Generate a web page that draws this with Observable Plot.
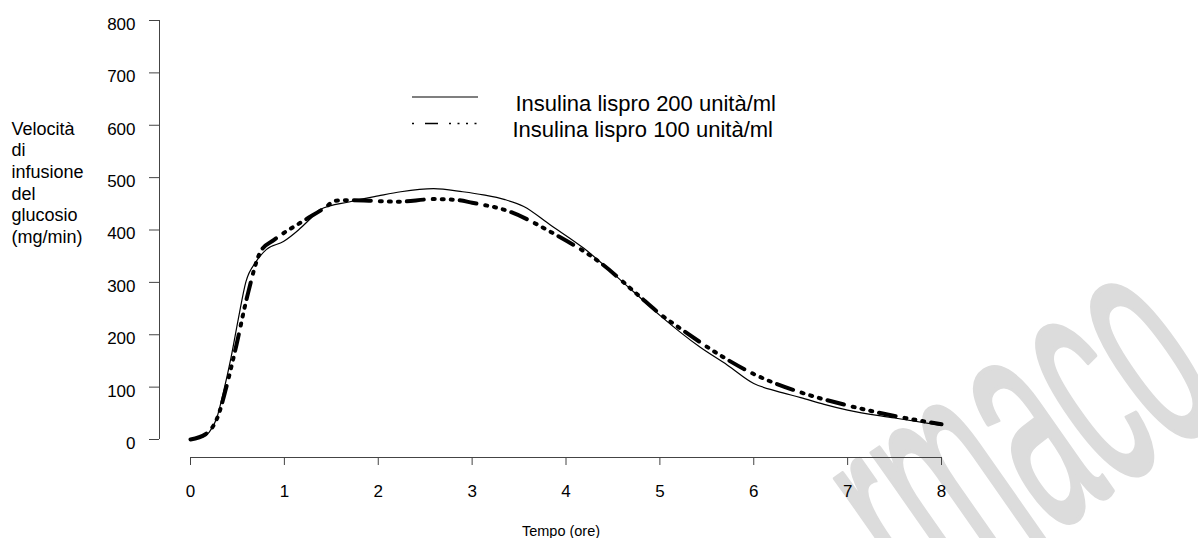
<!DOCTYPE html>
<html><head><meta charset="utf-8">
<script src="https://cdn.jsdelivr.net/npm/d3@7"></script>
<script src="https://cdn.jsdelivr.net/npm/@observablehq/plot@0.6"></script>
<style>
html,body{margin:0;padding:0;background:#fff}
svg{font-family:"Liberation Sans",Arial,sans-serif}
</style>
</head><body><div id="chart"></div>
<script>
// ---- data ----
const hours200  = [0, 0.1, 0.2, 0.28, 0.35, 0.43, 0.51, 0.59, 0.7, 0.81, 0.99, 1.15, 1.28, 1.38, 1.7, 2.0, 2.24, 2.59, 2.9, 3.12, 3.35, 3.55, 3.83, 4.19, 4.72, 5.0, 5.43, 5.72, 6.0, 6.25, 6.5, 6.75, 7.0, 7.5, 8.0];
const values200 = [1, 3, 14, 41, 90, 155, 231, 301, 340, 363, 378, 400, 422, 439, 454, 465, 473, 479, 473, 467, 458, 445, 410, 365, 282, 237, 176, 142, 107, 92, 80, 67, 56, 41, 27];
const hours100  = [0, 0.16, 0.22, 0.3, 0.37, 0.49, 0.6, 0.75, 0.89, 1.19, 1.42, 1.55, 1.67, 1.9, 2.2, 2.6, 2.85, 3.0, 3.37, 3.87, 4.37, 4.76, 5.0, 5.25, 5.65, 6.0, 6.5, 7.0, 7.5, 8.0];
const values100 = [0, 10, 20, 48, 92, 181, 270, 360, 381, 416, 441, 456, 457, 456, 454, 459, 457, 452, 437, 393, 337, 277, 240, 208, 160, 125, 90, 65, 45, 29];
const xTicks = [0, 1, 2, 3, 4, 5, 6, 7, 8];
const yTicks = [0, 100, 200, 300, 400, 500, 600, 700, 800];
const seriesNames = ["Insulina lispro 200 unità/ml", "Insulina lispro 100 unità/ml"];
const yTitleLines = ["Velocità", "di", "infusione", "del", "glucosio", "(mg/min)"];
const xTitle = "Tempo (ore)";
const watermark = "rmaco";

const data200 = hours200.map((h, i) => ({h, v: values200[i]}));
const data100 = hours100.map((h, i) => ({h, v: values100[i]}));

const dash100 = "17,9,2,7,2,7,2,7";
const axisColor = "#444";

function watermarkMark() {
  const g = d3.create("svg:g");
  g.append("text")
    .attr("transform", "translate(1230,409) rotate(-35) scale(0.42,1)")
    .attr("text-anchor", "end")
    .attr("font-size", 320)
    .attr("fill", "#dcdcdc")
    .attr("stroke", "#dcdcdc")
    .attr("stroke-width", 5)
    .attr("stroke-linejoin", "round")
    .text(watermark);
  return g.node();
}

function legendMark() {
  const g = d3.create("svg:g");
  g.append("line").attr("x1", 412).attr("x2", 478).attr("y1", 97).attr("y2", 97)
    .attr("stroke", "#000").attr("stroke-width", 1.2);
  g.append("line").attr("x1", 412).attr("x2", 478).attr("y1", 123.5).attr("y2", 123.5)
    .attr("stroke", "#000").attr("stroke-width", 1.6)
    .attr("stroke-dasharray", "2,11,13,11,2,6.5,2,6.5,2,6.5,2,20");
  return g.node();
}

const chart = Plot.plot({
  width: 1198, height: 538,
  marginLeft: 190, marginRight: 257, marginTop: 20, marginBottom: 99,
  x: {domain: [0, 8], axis: null},
  y: {domain: [0, 800], axis: null},
  style: {background: "#fff", fontFamily: '"Liberation Sans", Arial, sans-serif', overflow: "hidden"},
  marks: [
    watermarkMark,
    // y axis
    Plot.ruleX([0], {dx: -31, y1: 0, y2: 800, stroke: axisColor}),
    Plot.axisY({ticks: yTicks, tickSize: 10, dx: -31, tickFormat: () => "", label: null, stroke: axisColor}),
    Plot.text(yTicks, {y: d => d, frameAnchor: "left", dx: -55, dy: 4, textAnchor: "end", lineAnchor: "middle", fontSize: 17, fill: "#000"}),
    // x axis
    Plot.ruleY([0], {dy: 18, stroke: axisColor}),
    Plot.axisX({ticks: xTicks, tickSize: 8, dy: 18, tickFormat: () => "", label: null, stroke: axisColor}),
    Plot.text(xTicks, {x: d => d, frameAnchor: "bottom", dy: 52, lineAnchor: "middle", fontSize: 17, fill: "#000"}),
    // titles
    Plot.text([xTitle], {frameAnchor: "bottom", dx: -5, dy: 92, lineAnchor: "middle", fontSize: 14.5, fill: "#000"}),
    Plot.text([yTitleLines.join("\n")], {frameAnchor: "top-left", dx: -179, dy: 99, textAnchor: "start", lineAnchor: "top", lineHeight: 1.2, fontSize: 18, fill: "#000"}),
    // series
    Plot.line(data200, {x: "h", y: "v", curve: "monotone-x", stroke: "#000", strokeWidth: 1.2}),
    Plot.line(data100, {x: "h", y: "v", curve: "monotone-x", stroke: "#000", strokeWidth: 4, strokeDasharray: dash100}),
    // legend
    legendMark,
    Plot.text([seriesNames[0]], {frameAnchor: "top-left", dx: 325, dy: 83, textAnchor: "start", lineAnchor: "middle", fontSize: 22, fill: "#000"}),
    Plot.text([seriesNames[1]], {frameAnchor: "top-left", dx: 322, dy: 109.5, textAnchor: "start", lineAnchor: "middle", fontSize: 22, fill: "#000"})
  ]
});
document.getElementById("chart").appendChild(chart);
</script>
</body></html>
